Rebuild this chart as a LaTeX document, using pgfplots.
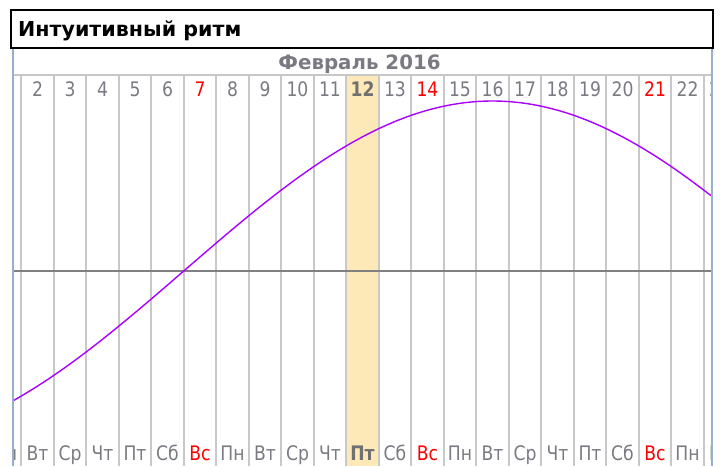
\documentclass[border=0pt]{standalone}
\usepackage{fontspec}
\setmainfont{DejaVu Sans}[FakeStretch=0.86]
\newfontfamily\widefont{DejaVu Sans}
\usepackage{pgfplots}
\pgfplotsset{compat=1.18}

\definecolor{gridc}{RGB}{200,200,200}
\definecolor{zeroc}{RGB}{128,128,128}
\definecolor{labc}{RGB}{122,122,130}
\definecolor{hl}{RGB}{253,233,183}
\definecolor{curvec}{RGB}{170,0,255}
\definecolor{edgec}{RGB}{150,175,205}

\begin{document}
\begin{tikzpicture}[x=1pt,y=1pt,
  dl/.style={inner sep=0pt,anchor=base,font=\fontsize{20}{21}\selectfont,text=labc},
  wl/.style={inner sep=0pt,anchor=base,font=\fontsize{20}{21}\selectfont,text=labc}]
\useasboundingbox (0,0) rectangle (720,466);
\begin{axis}[
  at={(13pt,0pt)},anchor=south west,scale only axis,
  width=698pt,height=419pt,
  xmin=1.24615,xmax=22.7231,ymin=-114.706,ymax=131.765,
  axis lines=none,clip=true]
% highlighted day
\fill[hl] (axis cs:11.5,115.29) rectangle (axis cs:12.5,-114.706);
% day column lines
\pgfplotsinvokeforeach{1.5,2.5,3.5,4.5,5.5,6.5,7.5,8.5,9.5,10.5,11.5,12.5,13.5,14.5,15.5,16.5,17.5,18.5,19.5,20.5,21.5,22.5}{
  \draw[gridc,line width=2pt] (axis cs:#1,115.29) -- (axis cs:#1,-114.706);
}
\draw[gridc,line width=1.5pt] (axis cs:1.24615,115.29) -- (axis cs:22.7231,115.29);
\draw[zeroc,line width=1.5pt] (axis cs:1.24615,0) -- (axis cs:22.7231,0);
% intuitive rhythm
\addplot[curvec,line width=1.4pt,smooth] coordinates {
 (1.246,-76.35) (1.5,-73.57) (2,-67.73) (2.5,-61.42) (3,-54.69) (3.5,-47.59)
 (4,-40.17) (4.5,-32.47) (5,-24.55) (5.5,-16.46) (6,-8.26) (6.5,0)
 (7,8.26) (7.5,16.46) (8,24.55) (8.5,32.47) (9,40.17) (9.5,47.59)
 (10,54.69) (10.5,61.42) (11,67.73) (11.5,73.57) (12,78.91) (12.5,83.72)
 (13,87.95) (13.5,91.59) (14,94.58) (14.5,96.94) (15,98.64) (15.5,99.66)
 (16,100) (16.5,99.66) (17,98.64) (17.5,96.94) (18,94.58) (18.5,91.59)
 (19,87.95) (19.5,83.72) (20,78.91) (20.5,73.57) (21,67.73) (21.5,61.42)
 (22,54.69) (22.5,47.59) (22.723,44.31)
};
% month header
\node[inner sep=0pt,anchor=base,text=labc,font=\widefont\fontsize{19.8}{21}\selectfont\bfseries]
  at (axis cs:11.908,118.24) {Февраль 2016};
% day numbers
\node[dl] at (axis cs:1,102.35) {1};
\node[dl] at (axis cs:2,102.35) {2};
\node[dl] at (axis cs:3,102.35) {3};
\node[dl] at (axis cs:4,102.35) {4};
\node[dl] at (axis cs:5,102.35) {5};
\node[dl] at (axis cs:6,102.35) {6};
\node[dl,text=red] at (axis cs:7,102.35) {7};
\node[dl] at (axis cs:8,102.35) {8};
\node[dl] at (axis cs:9,102.35) {9};
\node[dl] at (axis cs:10,102.35) {10};
\node[dl] at (axis cs:11,102.35) {11};
\node[dl,text={rgb,255:red,112;green,112;blue,112},font=\fontsize{20}{21}\selectfont\bfseries] at (axis cs:12,102.35) {12};
\node[dl] at (axis cs:13,102.35) {13};
\node[dl,text=red] at (axis cs:14,102.35) {14};
\node[dl] at (axis cs:15,102.35) {15};
\node[dl] at (axis cs:16,102.35) {16};
\node[dl] at (axis cs:17,102.35) {17};
\node[dl] at (axis cs:18,102.35) {18};
\node[dl] at (axis cs:19,102.35) {19};
\node[dl] at (axis cs:20,102.35) {20};
\node[dl,text=red] at (axis cs:21,102.35) {21};
\node[dl] at (axis cs:22,102.35) {22};
\node[dl] at (axis cs:23,102.35) {23};
% weekdays
\node[wl] at (axis cs:1,-111.18) {Пн};
\node[wl] at (axis cs:2,-111.18) {Вт};
\node[wl] at (axis cs:3,-111.18) {Ср};
\node[wl] at (axis cs:4,-111.18) {Чт};
\node[wl] at (axis cs:5,-111.18) {Пт};
\node[wl] at (axis cs:6,-111.18) {Сб};
\node[wl,text=red] at (axis cs:7,-111.18) {Вс};
\node[wl] at (axis cs:8,-111.18) {Пн};
\node[wl] at (axis cs:9,-111.18) {Вт};
\node[wl] at (axis cs:10,-111.18) {Ср};
\node[wl] at (axis cs:11,-111.18) {Чт};
\node[wl,text={rgb,255:red,112;green,112;blue,112},font=\fontsize{20}{21}\selectfont\bfseries] at (axis cs:12,-111.18) {Пт};
\node[wl] at (axis cs:13,-111.18) {Сб};
\node[wl,text=red] at (axis cs:14,-111.18) {Вс};
\node[wl] at (axis cs:15,-111.18) {Пн};
\node[wl] at (axis cs:16,-111.18) {Вт};
\node[wl] at (axis cs:17,-111.18) {Ср};
\node[wl] at (axis cs:18,-111.18) {Чт};
\node[wl] at (axis cs:19,-111.18) {Пт};
\node[wl] at (axis cs:20,-111.18) {Сб};
\node[wl,text=red] at (axis cs:21,-111.18) {Вс};
\node[wl] at (axis cs:22,-111.18) {Пн};
\node[wl] at (axis cs:23,-111.18) {Вт};
\end{axis}
% frame edges
\draw[edgec,line width=2pt] (13,418) -- (13,0);
\draw[edgec,line width=1.5pt] (712,418) -- (712,0);
% title box
\draw[black,line width=2pt] (11,456) rectangle (713,418);
\node[inner sep=0pt,anchor=base west,font=\widefont\fontsize{20.6}{22}\selectfont\bfseries]
  at (18,429) {Интуитивный ритм};
\end{tikzpicture}
\end{document}
